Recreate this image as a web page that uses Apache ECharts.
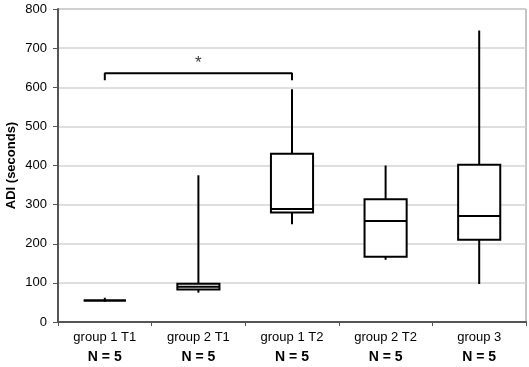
<!DOCTYPE html>
<html>
<head>
<meta charset="utf-8">
<script src="https://cdn.jsdelivr.net/npm/echarts@6/dist/echarts.min.js"></script>
<style>
  html, body { margin: 0; padding: 0; background: #fff; }
  #boxChart { width: 529px; height: 367px; }
</style>
</head>
<body>
<div id="boxChart"></div>
<script>
// ADI box plot
var boxDom = document.getElementById("boxChart");
var boxChart = echarts.init(boxDom);

var categories = ['group 1 T1', 'group 2 T1', 'group 1 T2', 'group 2 T2', 'group 3'];
var groupN = [5, 5, 5, 5, 5];
// min, Q1, median, Q3, max
var minVals = [52, 75, 250, 159, 97];
var q1Vals = [55, 83, 280, 167, 210];
var medianVals = [55, 90, 289, 258, 271];
var q3Vals = [55, 98, 430, 314, 402];
var maxVals = [62, 375, 595, 400, 745];
// significance bracket between group 1 T1 and group 1 T2
var bracketFrom = 0;
var bracketTo = 2;
var bracketTop = 636;
var bracketFoot = 618;
var starValue = 662;

var fontName = '"Liberation Sans", Arial, sans-serif';

function boxData() {
  return categories.map(function (c, i) {
    return [i, minVals[i], q1Vals[i], medianVals[i], q3Vals[i], maxVals[i]];
  });
}

// box without whisker caps
function renderBox(params, api) {
  var x = api.value(0);
  var lo = api.coord([x, api.value(1)]);
  var q1 = api.coord([x, api.value(2)]);
  var med = api.coord([x, api.value(3)]);
  var q3 = api.coord([x, api.value(4)]);
  var hi = api.coord([x, api.value(5)]);
  var half = api.size([1, 0])[0] * 0.225;
  var style = { stroke: '#000', lineWidth: 2, fill: '#fff' };
  var lineStyle = { stroke: '#000', lineWidth: 2 };
  return {
    type: 'group',
    children: [
      { type: 'line', shape: { x1: hi[0], y1: hi[1], x2: q3[0], y2: q3[1] }, style: lineStyle },
      { type: 'line', shape: { x1: q1[0], y1: q1[1], x2: lo[0], y2: lo[1] }, style: lineStyle },
      { type: 'rect', shape: { x: q3[0] - half, y: q3[1], width: half * 2, height: q1[1] - q3[1] }, style: style },
      { type: 'line', shape: { x1: med[0] - half, y1: med[1], x2: med[0] + half, y2: med[1] }, style: lineStyle }
    ]
  };
}

var option = {
  animation: false,
  grid: {
    left: 58,
    right: 3,
    top: 9,
    bottom: 45,
    outerBoundsMode: 'none',
    show: true,
    borderColor: '#8a8a8a',
    borderWidth: 1
  },
  xAxis: {
    type: 'category',
    data: categories,
    boundaryGap: true,
    axisLine: { lineStyle: { color: '#555', width: 2 } },
    axisTick: { show: true, interval: 0, length: 4, lineStyle: { color: '#555', width: 1 } },
    axisLabel: {
      interval: 0,
      margin: 5,
      formatter: function (v, i) {
        return '{a|' + v + '}\n{b|N = ' + groupN[i] + '}';
      },
      rich: {
        a: { fontFamily: fontName, fontSize: 13, color: '#000', lineHeight: 20 },
        b: { fontFamily: fontName, fontSize: 14, fontWeight: 'bold', color: '#000', lineHeight: 20 }
      }
    }
  },
  yAxis: {
    type: 'value',
    min: 0,
    max: 800,
    interval: 100,
    name: 'ADI (seconds)',
    nameLocation: 'middle',
    nameGap: 40,
    nameMoveOverlap: false,
    nameTextStyle: { fontFamily: fontName, fontSize: 13, fontWeight: 'bold', color: '#000' },
    axisLine: { show: true, lineStyle: { color: '#555', width: 2 } },
    axisTick: { show: true, length: 5, lineStyle: { color: '#555' } },
    axisLabel: { fontFamily: fontName, fontSize: 13, color: '#000', margin: 11 },
    splitLine: { show: true, lineStyle: { color: '#d4d4d4', width: 1.5 } }
  },
  series: [
    {
      type: 'custom',
      renderItem: renderBox,
      encode: { x: 0, y: [1, 2, 3, 4, 5] },
      data: boxData(),
      z: 3
    },
    {
      type: 'line',
      symbol: 'none',
      lineStyle: { color: '#000', width: 2 },
      data: [
        [bracketFrom, bracketFoot],
        [bracketFrom, bracketTop],
        [bracketTo, bracketTop],
        [bracketTo, bracketFoot]
      ],
      z: 4
    },
    {
      type: 'scatter',
      symbolSize: 1,
      itemStyle: { color: 'rgba(0,0,0,0)' },
      label: {
        show: true,
        position: 'inside',
        formatter: '*',
        fontFamily: fontName,
        fontSize: 17,
        color: '#000'
      },
      data: [[(bracketFrom + bracketTo) / 2, starValue]]
    }
  ]
};

boxChart.setOption(option);
</script>
</body>
</html>
